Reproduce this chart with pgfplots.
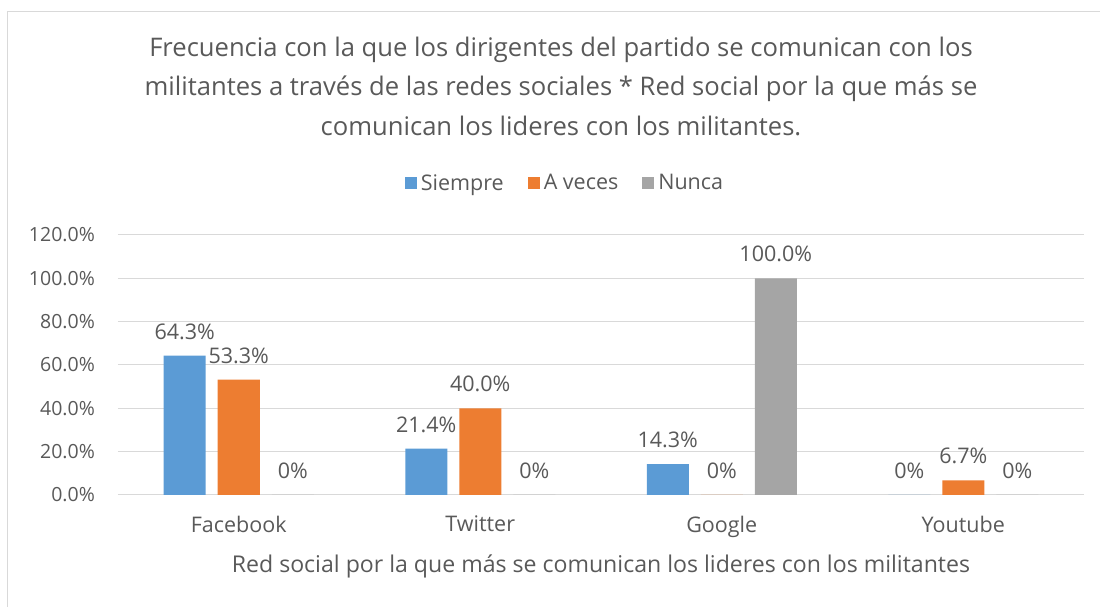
\documentclass[border=0pt]{standalone}
\usepackage{fontspec}
\setmainfont{Open Sans}
\usepackage{pgfplots}
\pgfplotsset{compat=1.18}
\definecolor{cS}{HTML}{5B9BD5}
\definecolor{cA}{HTML}{ED7D31}
\definecolor{cN}{HTML}{A5A5A5}
\definecolor{txt}{HTML}{595959}
\definecolor{grd}{HTML}{D9D9D9}
\begin{document}
\begin{tikzpicture}[x=1pt,y=1pt]
\path[use as bounding box] (-118,-112) rectangle (982,495);
\draw[grd, line width=1pt] (-110,-112) -- (-110,483) -- (982,483);
\begin{axis}[
  at={(0,0)}, anchor=south west, scale only axis,
  width=966pt, height=260pt,
  ymin=0, ymax=120, xmin=-0.5, xmax=3.5,
  ybar=12pt, bar width=42pt,
  xtick={0,1,2,3}, xticklabels={Facebook,Twitter,Google,Youtube},
  ytick={0,20,40,60,80,100,120},
  yticklabels={0.0\%,20.0\%,40.0\%,60.0\%,80.0\%,100.0\%,120.0\%},
  major tick length=0pt,
  ymajorgrids, grid style={grd, line width=1pt},
  axis x line*=bottom, axis y line*=left,
  x axis line style={grd, line width=1pt, -},
  y axis line style={draw=none},
  yticklabel style={anchor=east, inner sep=0pt, xshift=-23pt, font=\fontsize{19.5}{23}\selectfont, text=txt},
  xticklabel style={anchor=north, inner sep=0pt, yshift=-21pt, font=\fontsize{21.5}{25}\selectfont, text=txt},
  xlabel={Red social por la que más se comunican los lideres con los militantes},
  xlabel style={at={(axis description cs:0.5,0)}, anchor=center, yshift=-71pt, font=\fontsize{23.1}{28}\selectfont, text=txt},
  title={Frecuencia con la que los dirigentes del partido se comunican con los\\militantes a través de las redes sociales * Red social por la que más se\\comunican los lideres con los militantes.},
  title style={at={(axis description cs:0.5,1)}, anchor=center, xshift=-40pt, yshift=143pt, align=center, font=\fontsize{25.6}{39.5}\selectfont, text=txt},
  legend style={at={(axis description cs:0.5,1)}, anchor=center, xshift=-36pt, yshift=52pt, draw=none, fill=none, font=\fontsize{21.5}{25}\selectfont, text=txt, legend columns=-1, /tikz/every even column/.append style={column sep=22pt}, /tikz/every odd column/.append style={column sep=2pt}},
  legend image code/.code={\fill[#1] (0pt,-6pt) rectangle (12pt,6pt);},
  point meta=explicit symbolic,
  nodes near coords={\pgfplotspointmeta},
  every node near coord/.append style={font=\fontsize{21.5}{25}\selectfont, text=txt, inner sep=0pt, yshift=16pt},
]
\addplot[fill=cS, draw=none] coordinates {(0,64.3) [64.3\%] (1,21.4) [21.4\%] (2,14.3) [14.3\%] (3,0) [0\%]};
\addplot[fill=cA, draw=none] coordinates {(0,53.3) [53.3\%] (1,40.0) [40.0\%] (2,0) [0\%] (3,6.7) [6.7\%]};
\addplot[fill=cN, draw=none] coordinates {(0,0) [0\%] (1,0) [0\%] (2,100.0) [100.0\%] (3,0) [0\%]};
\legend{Siempre,A veces,Nunca}
\end{axis}
\end{tikzpicture}
\end{document}
